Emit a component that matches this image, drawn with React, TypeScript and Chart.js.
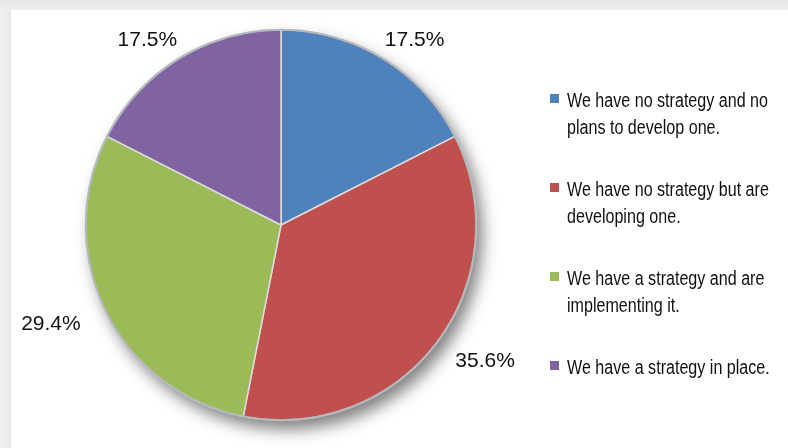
import React, { useEffect, useRef } from "react";
import { Chart, registerables } from "chart.js";

Chart.register(...registerables);

const categories: string[][] = [
  ["We have no strategy and no", "plans to develop one."],
  ["We have no strategy but are", "developing one."],
  ["We have a strategy and are", "implementing it."],
  ["We have a strategy in place."],
];
const values: number[] = [17.5, 35.6, 29.4, 17.5];
const valueLabels: string[] = ["17.5%", "35.6%", "29.4%", "17.5%"];
const colors: string[] = ["#4F81BD", "#C0504D", "#9BBB59", "#8064A2"];

const W = 788;
const H = 448;

const framePlugin = {
  id: "frame",
  beforeDraw(chart: any) {
    const ctx = chart.ctx;
    ctx.save();
    const g = ctx.createLinearGradient(0, 0, 0, 12);
    g.addColorStop(0, "#e6e7e7");
    g.addColorStop(1, "#eeeeee");
    ctx.fillStyle = g;
    ctx.fillRect(0, 0, W, H);
    const g2 = ctx.createLinearGradient(0, 0, 11, 0);
    g2.addColorStop(0, "#f1f2f2");
    g2.addColorStop(1, "#e8e8e8");
    ctx.fillStyle = g2;
    ctx.fillRect(0, 10, 11, H - 10);
    ctx.fillStyle = "#ffffff";
    ctx.fillRect(11, 10, W - 11, H - 10);
    ctx.restore();
  },
};

const shadowPlugin = {
  id: "pieShadow",
  beforeDatasetsDraw(chart: any) {
    const meta = chart.getDatasetMeta(0);
    const arc = meta.data[0];
    if (!arc) return;
    const { x, y, outerRadius } = arc.getProps(["x", "y", "outerRadius"], true);
    const ctx = chart.ctx;
    ctx.save();
    ctx.shadowColor = "rgba(0,0,0,0.5)";
    ctx.shadowBlur = 16;
    ctx.shadowOffsetX = 6;
    ctx.shadowOffsetY = 9;
    ctx.beginPath();
    ctx.arc(x, y, outerRadius, 0, Math.PI * 2);
    ctx.fillStyle = "#999999";
    ctx.fill();
    ctx.restore();
  },
  afterDatasetsDraw(chart: any) {
    const meta = chart.getDatasetMeta(0);
    const arc0 = meta.data[0];
    if (!arc0) return;
    const { x, y, outerRadius } = arc0.getProps(["x", "y", "outerRadius"], true);
    const ctx = chart.ctx;
    ctx.save();
    ctx.beginPath();
    ctx.arc(x, y, outerRadius, 0, Math.PI * 2);
    ctx.strokeStyle = "#b4b8bc";
    ctx.lineWidth = 2;
    ctx.stroke();

    // value labels
    ctx.font = '21px "Liberation Sans", Arial, sans-serif';
    ctx.fillStyle = "#111111";
    ctx.textAlign = "center";
    ctx.textBaseline = "middle";
    meta.data.forEach((a: any, i: number) => {
      const p = a.getProps(["startAngle", "endAngle"], true);
      const mid = (p.startAngle + p.endAngle) / 2;
      const lx = x + Math.cos(mid) * outerRadius * 1.31;
      const ly = y + Math.sin(mid) * outerRadius * 1.13 + 3;
      ctx.fillText(valueLabels[i], lx, ly);
    });
    ctx.restore();
  },
};

const legendPlugin = {
  id: "customLegend",
  afterDraw(chart: any) {
    const ctx = chart.ctx;
    ctx.save();
    ctx.font = '20px "Liberation Sans", Arial, sans-serif';
    ctx.textAlign = "left";
    ctx.textBaseline = "alphabetic";
    const natural = ctx.measureText(categories[0][0]).width;
    const sx = 201 / natural;
    const startY = 107;
    const step = 89;
    const lineH = 27;
    categories.forEach((lines, i) => {
      const by = startY + i * step;
      ctx.fillStyle = colors[i];
      ctx.fillRect(550, by - 13, 9, 9);
      ctx.fillStyle = "#111111";
      lines.forEach((ln, j) => {
        ctx.save();
        ctx.translate(567, by + j * lineH);
        ctx.scale(sx, 1);
        ctx.fillText(ln, 0, 0);
        ctx.restore();
      });
    });
    ctx.restore();
  },
};

export default function App() {
  const ref = useRef<HTMLCanvasElement | null>(null);
  useEffect(() => {
    document.body.style.margin = "0";
    if (!ref.current) return;
    const chart = new Chart(ref.current, {
      type: "pie",
      data: {
        labels: categories.map((c) => c.join(" ")),
        datasets: [
          {
            data: values,
            backgroundColor: colors,
            borderColor: "#dcdcdc",
            borderWidth: 1.5,
          },
        ],
      },
      options: {
        responsive: false,
        animation: false,
        layout: { padding: { left: 85, right: 311, top: 29, bottom: 27 } },
        plugins: {
          legend: { display: false },
          tooltip: { enabled: false },
          title: { display: false },
        },
      },
      plugins: [framePlugin, shadowPlugin, legendPlugin],
    });
    return () => chart.destroy();
  }, []);
  return (
    <div style={{ width: W, height: H, position: "relative" }}>
      <canvas ref={ref} width={W} height={H} style={{ display: "block", width: W, height: H }} />
    </div>
  );
}
